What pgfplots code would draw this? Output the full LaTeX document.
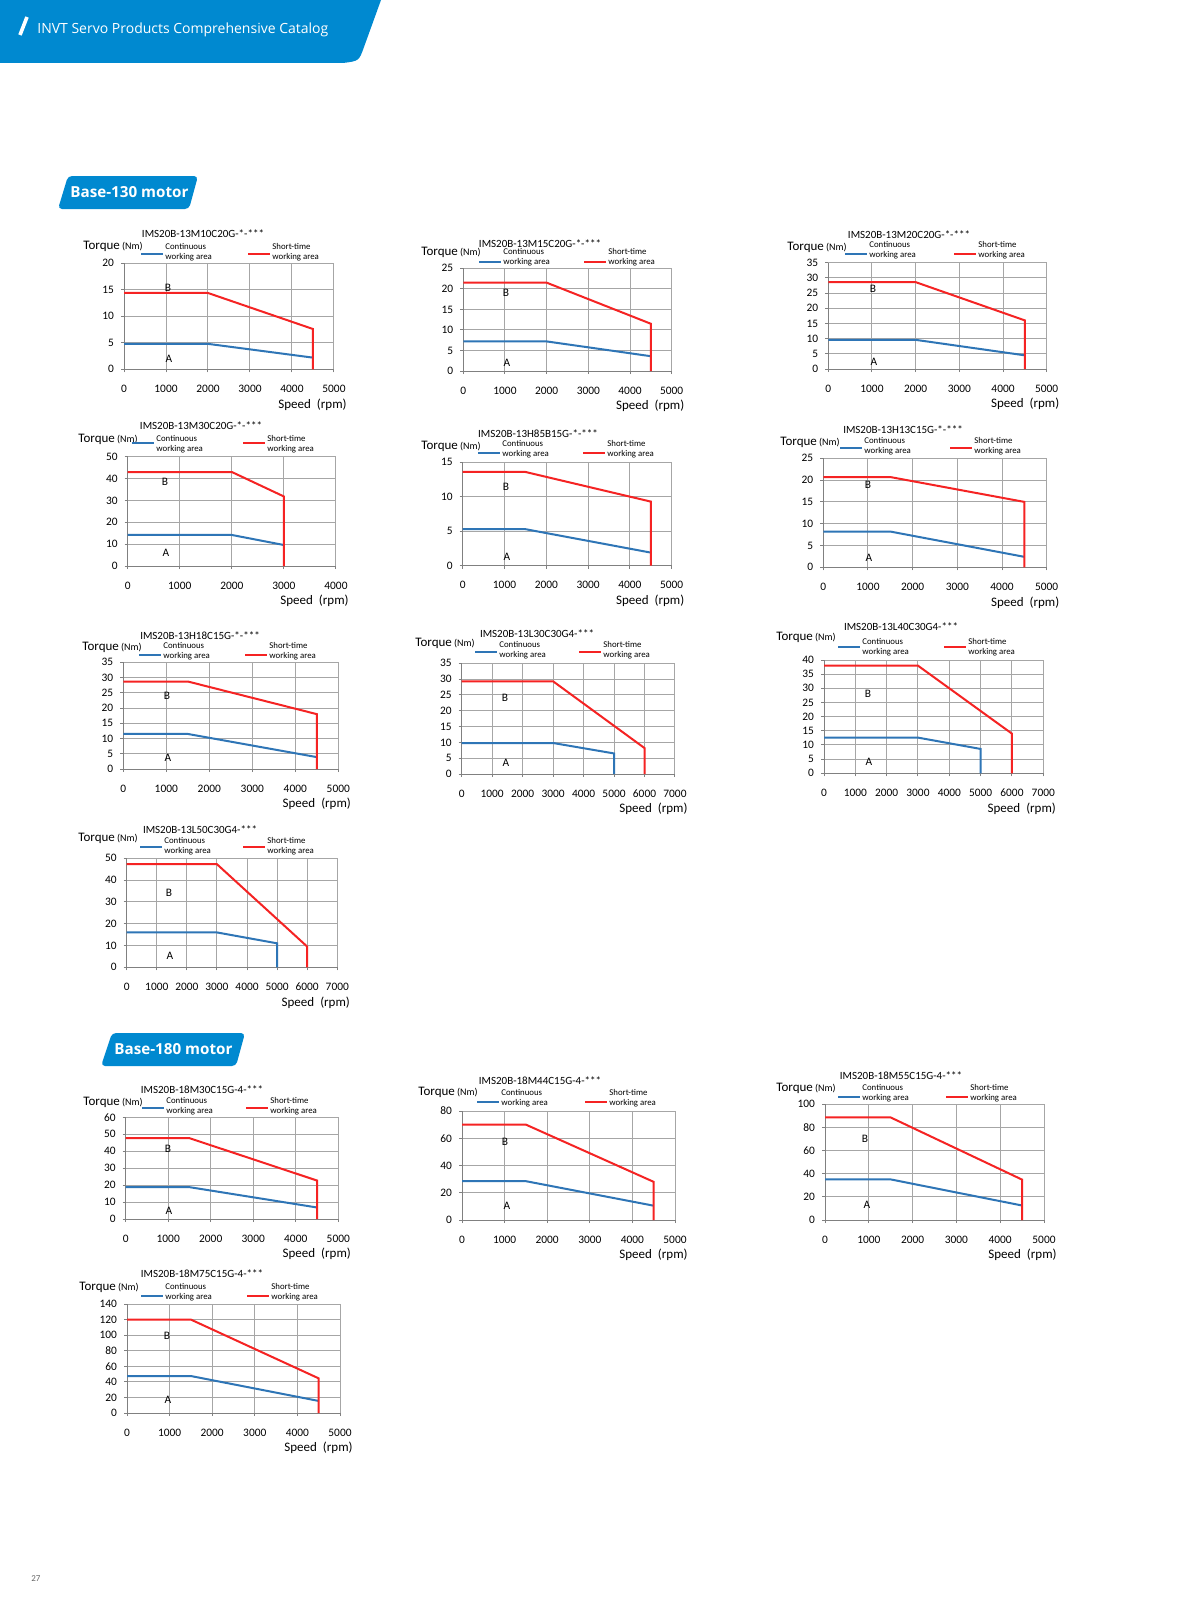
\documentclass[border=0pt]{standalone}
\usepackage{pgfplots}
\pgfplotsset{compat=1.18}
\usepackage{fontspec}
\setmainfont{Carlito}
\newfontfamily\headfont{Open Sans}

\definecolor{invtblue}{RGB}{0,137,208}
\definecolor{contblue}{RGB}{46,117,182}
\definecolor{shortred}{RGB}{245,35,35}

\newcommand\tickfont{\fontsize{5.7}{6.8}\selectfont}
\newcommand\titlefont{\fontsize{5.5}{6.2}\selectfont}
\newcommand\legfont{\fontsize{4.4}{4.8}\selectfont}

\pgfplotsset{
  motor/.style={
    scale only axis, anchor=south west,
    axis lines=left, axis line style={-, draw=black!50, line width=0.5pt},
    grid=major, major grid style={draw=black!35, line width=0.5pt},
    tick align=outside, major tick length=1.5pt,
    tick style={draw=black!50, line width=0.5pt},
    xmin=0, ymin=0, clip=false,
    ticklabel style={font=\tickfont},
    xticklabel style={anchor=base, yshift=-10pt},
    /pgf/number format/assume math mode=true,
    /pgf/number format/1000 sep={},
    xlabel={Speed\hspace{3pt}(rpm)},
    xlabel style={at={(axis description cs:1,0)}, anchor=east, inner sep=0pt,
      xshift=6.5pt, yshift=-17.5pt, font=\fontsize{6.5}{7.8}\selectfont},
  },
  cont/.style={draw=contblue, line width=1pt},
  short/.style={draw=shortred, line width=1pt},
}

% title, title x, title y, torque x, torque y, legend line x, legend line y, red line x, legend text y
\newcommand\chartdecor[9]{%
  \node[font=\titlefont, inner sep=0pt] at (#2,#3) {#1};
  \node[anchor=west, inner sep=0pt] at (#4,#5)
    {\fontsize{6.5}{7.8}\selectfont Torque\,{\fontsize{5}{6}\selectfont(Nm)}};
  \draw[contblue, line width=0.8pt] (#6,#7) -- ++(22,0);
  \node[anchor=west, align=left, inner sep=0pt, font=\legfont]
    at ({#6+24},#9) {Continuous\\working area};
  \draw[shortred, line width=0.8pt] (#8,#7) -- ++(22,0);
  \node[anchor=west, align=left, inner sep=0pt, font=\legfont]
    at ({#8+24},#9) {Short-time\\working area};
}

\begin{document}
\begin{tikzpicture}[x=0.5pt, y=-0.5pt, ab/.style={font=\tickfont, inner sep=0pt}]
\fill[white] (0,0) rectangle (1191,1616);
\path[use as bounding box] (0,0) rectangle (1191,1616);

% header band
\fill[invtblue] (0,0) -- (381,0) -- (364,47) .. controls (359,61) .. (343,63) -- (0,63) -- cycle;
\draw[white, line width=1.8pt] (20,35) -- (27,17);
\node[anchor=west, text=white, inner sep=0pt, font=\headfont\fontsize{7}{8}\selectfont] at (37,30)
  {INVT Servo Products Comprehensive Catalog};

% section tabs
\fill[invtblue, rounded corners=2pt] (58,209) -- (68,176) -- (198,176) -- (189,209) -- cycle;
\node[anchor=west, text=white, inner sep=0pt, font=\headfont\bfseries\fontsize{7.6}{8}\selectfont] at (70,192) {Base-130 motor};
\fill[invtblue, rounded corners=2pt] (101,1066) -- (112,1033) -- (245,1033) -- (236,1066) -- cycle;
\node[anchor=west, text=white, inner sep=0pt, font=\headfont\bfseries\fontsize{7.6}{8}\selectfont] at (114,1049) {Base-180 motor};

\node[anchor=west, inner sep=0pt, text=black!60, font=\fontsize{4.5}{5}\selectfont] at (31,1579) {27};

% ---- 13M10C20G
\coordinate (c1) at (124,369.3);
\begin{axis}[motor, at={(c1)}, width=105pt, height=53pt, xmax=5000, ymax=20,
  xtick={0,1000,...,5000}, ytick={0,5,...,20}]
\addplot[cont] coordinates {(0,4.8) (2000,4.8) (4500,2.2)};
\addplot[short] coordinates {(0,14.4) (2000,14.4) (4500,7.6) (4500,0)};
\node[ab] at (axis cs:1048,15.3) {B};
\node[ab] at (axis cs:1071,1.9) {A};
\end{axis}
\chartdecor{IMS20B-13M10C20G-*-***}{203}{234}{83}{246}{141}{254}{248}{252}

% ---- 13M15C20G
\coordinate (c2) at (463.3,371);
\begin{axis}[motor, at={(c2)}, width=104.2pt, height=51.35pt, xmax=5000, ymax=25,
  xtick={0,1000,...,5000}, ytick={0,5,...,25}]
\addplot[cont] coordinates {(0,7.2) (2000,7.2) (4500,3.6)};
\addplot[short] coordinates {(0,21.5) (2000,21.5) (4500,11.5) (4500,0)};
\node[ab] at (axis cs:1024,19) {B};
\node[ab] at (axis cs:1048,1.95) {A};
\end{axis}
\chartdecor{IMS20B-13M15C20G-*-***}{540}{244}{421}{252}{479}{262}{584}{257}

% ---- 13M20C20G
\coordinate (c3) at (828.3,369);
\begin{axis}[motor, at={(c3)}, width=109.2pt, height=53.15pt, xmax=5000, ymax=35,
  xtick={0,1000,...,5000}, ytick={0,5,...,35}]
\addplot[cont] coordinates {(0,9.6) (2000,9.6) (4500,4.5)};
\addplot[short] coordinates {(0,28.6) (2000,28.6) (4500,16) (4500,0)};
\node[ab] at (axis cs:1023,26.3) {B};
\node[ab] at (axis cs:1046,2.3) {A};
\end{axis}
\chartdecor{IMS20B-13M20C20G-*-***}{909}{235}{787}{247}{845}{254}{954}{250}

% ---- 13M30C20G
\coordinate (c4) at (127.7,566);
\begin{axis}[motor, at={(c4)}, width=104.15pt, height=54.65pt, xmax=4000, ymax=50,
  xtick={0,1000,...,4000}, ytick={0,10,...,50}]
\addplot[cont] coordinates {(0,14.2) (2000,14.2) (3000,9.6)};
\addplot[short] coordinates {(0,43) (2000,43) (3000,31.8) (3000,0)};
\node[ab] at (axis cs:716,38.4) {B};
\node[ab] at (axis cs:735,5.9) {A};
\end{axis}
\chartdecor{IMS20B-13M30C20G-*-***}{201}{426}{78}{439}{132}{443}{243}{444}

% ---- 13H85B15G
\coordinate (c5) at (462.7,565.7);
\begin{axis}[motor, at={(c5)}, width=104.5pt, height=51.7pt, xmax=5000, ymax=15,
  xtick={0,1000,...,5000}, ytick={0,5,...,15}]
\addplot[cont] coordinates {(0,5.3) (1500,5.3) (4500,1.9)};
\addplot[short] coordinates {(0,13.6) (1500,13.6) (4500,9.3) (4500,0)};
\node[ab] at (axis cs:1036,11.4) {B};
\node[ab] at (axis cs:1060,1.26) {A};
\end{axis}
\chartdecor{IMS20B-13H85B15G-*-***}{538}{434}{421}{446}{478}{453}{583}{449}

% ---- 13H13C15G
\coordinate (c6) at (823.3,567.3);
\begin{axis}[motor, at={(c6)}, width=111.7pt, height=54.5pt, xmax=5000, ymax=25,
  xtick={0,1000,...,5000}, ytick={0,5,...,25}]
\addplot[cont] coordinates {(0,8.2) (1500,8.2) (4500,2.4)};
\addplot[short] coordinates {(0,20.7) (1500,20.7) (4500,15) (4500,0)};
\node[ab] at (axis cs:1000,18.9) {B};
\node[ab] at (axis cs:1023,2.1) {A};
\end{axis}
\chartdecor{IMS20B-13H13C15G-*-***}{903}{430}{780}{442}{840}{448}{950}{446}

% ---- 13H18C15G
\coordinate (c7) at (123.3,769);
\begin{axis}[motor, at={(c7)}, width=107.5pt, height=53.35pt, xmax=5000, ymax=35,
  xtick={0,1000,...,5000}, ytick={0,5,...,35}]
\addplot[cont] coordinates {(0,11.5) (1500,11.5) (4500,3.9)};
\addplot[short] coordinates {(0,28.7) (1500,28.7) (4500,18) (4500,0)};
\node[ab] at (axis cs:1016,23.9) {B};
\node[ab] at (axis cs:1040,3.6) {A};
\end{axis}
\chartdecor{IMS20B-13H18C15G-*-***}{200}{636}{82}{647}{139}{655}{245}{651}

% ---- 13L30C30G4
\coordinate (c8) at (461.7,774);
\begin{axis}[motor, at={(c8)}, width=106.65pt, height=55.35pt, xmax=7000, ymax=35,
  xtick={0,1000,...,7000}, ytick={0,5,...,35}]
\addplot[cont] coordinates {(0,9.8) (3000,9.8) (5000,6.5) (5000,0)};
\addplot[short] coordinates {(0,29.3) (3000,29.3) (6000,8.2) (6000,0)};
\node[ab] at (axis cs:1421,24) {B};
\node[ab] at (axis cs:1454,3.5) {A};
\end{axis}
\chartdecor{IMS20B-13L30C30G4-***}{537}{634}{415}{643}{475}{652}{579}{650}

% ---- 13L40C30G4
\coordinate (c9) at (824,773.3);
\begin{axis}[motor, at={(c9)}, width=109.65pt, height=56.65pt, xmax=7000, ymax=40,
  xtick={0,1000,...,7000}, ytick={0,5,...,40}]
\addplot[cont] coordinates {(0,12.6) (3000,12.6) (5000,8.6) (5000,0)};
\addplot[short] coordinates {(0,38) (3000,38) (6000,14) (6000,0)};
\node[ab] at (axis cs:1404,28) {B};
\node[ab] at (axis cs:1436,4) {A};
\end{axis}
\chartdecor{IMS20B-13L40C30G4-***}{901}{627}{776}{637}{838}{647}{944}{647}

% ---- 13L50C30G4
\coordinate (c10) at (126.7,967.3);
\begin{axis}[motor, at={(c10)}, width=105.3pt, height=54.5pt, xmax=7000, ymax=50,
  xtick={0,1000,...,7000}, ytick={0,10,...,50}]
\addplot[cont] coordinates {(0,16) (3000,16) (5000,11) (5000,0)};
\addplot[short] coordinates {(0,47.3) (3000,47.3) (6000,9.5) (6000,0)};
\node[ab] at (axis cs:1406,34.1) {B};
\node[ab] at (axis cs:1439,5.2) {A};
\end{axis}
\chartdecor{IMS20B-13L50C30G4-***}{200}{830}{78}{838}{140}{847}{243}{846}

% ---- 18M30C15G4
\coordinate (c11) at (125.7,1219);
\begin{axis}[motor, at={(c11)}, width=106.3pt, height=50.85pt, xmax=5000, ymax=60,
  xtick={0,1000,...,5000}, ytick={0,10,...,60}]
\addplot[cont] coordinates {(0,18.8) (1500,18.8) (4500,6.8)};
\addplot[short] coordinates {(0,47.7) (1500,47.7) (4500,22.7) (4500,0)};
\node[ab] at (axis cs:995,41.3) {B};
\node[ab] at (axis cs:1018,4.7) {A};
\end{axis}
\chartdecor{IMS20B-18M30C15G-4-***}{202}{1090}{83}{1102}{142}{1108}{246}{1106}

% ---- 18M44C15G4
\coordinate (c12) at (462,1220);
\begin{axis}[motor, at={(c12)}, width=106.5pt, height=54.5pt, xmax=5000, ymax=80,
  xtick={0,1000,...,5000}, ytick={0,20,...,80}]
\addplot[cont] coordinates {(0,28.5) (1500,28.5) (4500,10.5)};
\addplot[short] coordinates {(0,70) (1500,70) (4500,28) (4500,0)};
\node[ab] at (axis cs:1009,57.2) {B};
\node[ab] at (axis cs:1056,10.3) {A};
\end{axis}
\chartdecor{IMS20B-18M44C15G-4-***}{540}{1081}{418}{1092}{477}{1102}{585}{1098}

% ---- 18M55C15G4
\coordinate (c13) at (825,1220);
\begin{axis}[motor, at={(c13)}, width=109.5pt, height=58pt, xmax=5000, ymax=100,
  xtick={0,1000,...,5000}, ytick={0,20,...,100}]
\addplot[cont] coordinates {(0,35) (1500,35) (4500,12.5)};
\addplot[short] coordinates {(0,88.4) (1500,88.4) (4500,34.8) (4500,0)};
\node[ab] at (axis cs:913,69.8) {B};
\node[ab] at (axis cs:959,12.9) {A};
\end{axis}
\chartdecor{IMS20B-18M55C15G-4-***}{901}{1076}{776}{1088}{838}{1097}{946}{1093}

% ---- 18M75C15G4
\coordinate (c14) at (127,1413);
\begin{axis}[motor, at={(c14)}, width=106.5pt, height=54.5pt, xmax=5000, ymax=140,
  xtick={0,1000,...,5000}, ytick={0,20,...,140}]
\addplot[cont] coordinates {(0,47.5) (1500,47.5) (4500,15.5)};
\addplot[short] coordinates {(0,120) (1500,120) (4500,44.5) (4500,0)};
\node[ab] at (axis cs:939,98.9) {B};
\node[ab] at (axis cs:962,16.7) {A};
\end{axis}
\chartdecor{IMS20B-18M75C15G-4-***}{202}{1274}{79}{1287}{141}{1296}{247}{1292}

\end{tikzpicture}
\end{document}
